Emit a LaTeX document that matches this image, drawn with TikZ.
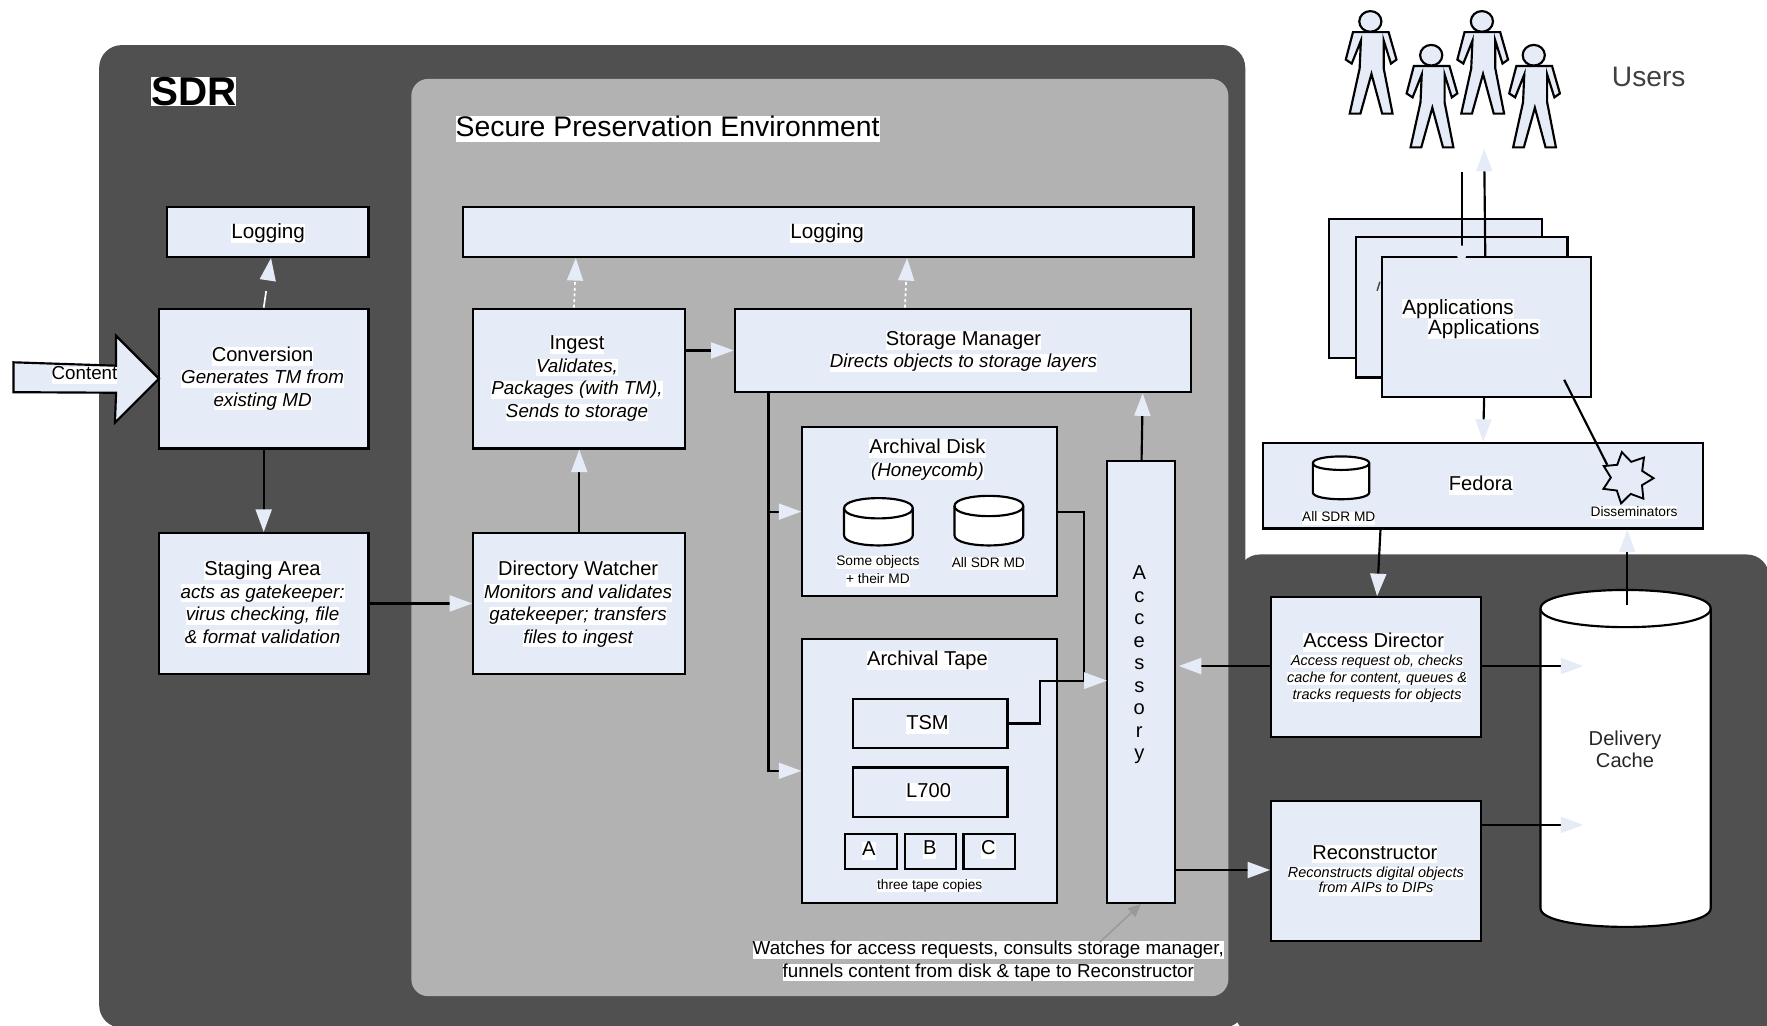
\documentclass[tikz,border=0pt]{standalone}
\usepackage{fontspec}
\setmainfont{Liberation Sans}
\usetikzlibrary{arrows.meta,shapes.geometric}
\definecolor{boxfill}{HTML}{E6ECF7}
\definecolor{panel}{HTML}{505050}
\definecolor{inner}{HTML}{B2B2B2}
\setlength{\fboxsep}{0pt}
\newcommand{\wl}[1]{\colorbox{white}{\vphantom{Ag}#1}}
\newcommand{\iw}[1]{\colorbox{white}{\fontsize{10}{12}\selectfont\itshape\vphantom{Ag}#1}}
\newcommand{\bx}[6][]{\node[boxn,#1,minimum width={(#4-#3)*0.6pt},minimum height={(#6-#5)*0.6pt}] (#2) at ({(#3+#4)/2},{(#5+#6)/2}) {};}
\newcommand{\cyl}[5]{\draw[line width=1.15pt,fill=white] (#1,#3) .. controls (#1,{#3-#5}) and (#2,{#3-#5}) .. (#2,#3)
   -- (#2,#4) .. controls (#2,{#4+#5}) and (#1,{#4+#5}) .. (#1,#4) -- cycle;
   \draw[line width=1.15pt] (#1,#3) .. controls (#1,{#3+#5}) and (#2,{#3+#5}) .. (#2,#3);}
\tikzset{
  boxn/.style={draw=black,fill=boxfill,line width=1.15pt,inner sep=0pt},
  lbl/.style={inner sep=0pt,yshift=-1.2pt,align=center,font=\fontsize{10.7}{12}\selectfont},
  small/.style={inner sep=0pt,yshift=-1.2pt,align=center,font=\fontsize{7.3}{9}\selectfont},
  smalli/.style={inner sep=0pt,yshift=-1.2pt,align=center,font=\fontsize{7.7}{9}\selectfont\itshape},
  conn/.style={line width=1.15pt,draw=black,-{Triangle[length=12pt,width=8.5pt,color=boxfill]}},
  plainc/.style={line width=1.15pt,draw=black},
  dotc/.style={line width=.9pt,draw=white,dash pattern=on 1.6pt off 1.4pt,-{Triangle[length=12pt,width=8.5pt,color=boxfill]}},
  dashc/.style={line width=.9pt,draw=white,dash pattern=on 9pt off 6pt,-{Triangle[length=12pt,width=8.5pt,color=boxfill]}},
  grayc/.style={line width=.8pt,draw=gray!80,-{Triangle[length=7pt,width=6pt,color=gray!80]}},
  person/.style={draw=black,fill=boxfill,line width=1.15pt,line join=miter}
}
\newcommand{\usr}[3]{
  \begin{scope}[shift={(#2,#3)}]
  \draw[person] (-15.4,9.5) -- (-21.8,33.9) -- (-16.5,37.4) -- (-8.4,17.1) -- (-9.5,41.8) -- (-18.3,81.8) -- (-8.8,81.8) -- (1,46.6) -- (10.5,81.8) -- (19.7,81.8) -- (11.9,41.8) -- (11.9,17.1) -- (18.3,37.4) -- (23.2,33.9) -- (16.2,9.5) -- cycle;
  \node[person,ellipse,minimum width=11.8pt,minimum height=11pt,inner sep=0pt] (#1) at (0,0) {};
  \end{scope}}
\begin{document}
\begin{tikzpicture}[x=0.6pt,y=-0.6pt]
\useasboundingbox (0,0) rectangle (1568,910);
\clip (0,0) rectangle (1568,910);
% panels
\fill[panel,rounded corners=12pt] (88,40) rectangle (1105,912);
\fill[panel,rounded corners=12pt] (1098,492) rectangle (1570,950);
\fill[inner,rounded corners=9pt] (365,70) rectangle (1090,884);
% titles
\node[inner sep=0pt,font=\fontsize{21.5}{22}\selectfont\bfseries] (sdr) at (172,81) {\colorbox{white}{SDR}};
\node[inner sep=0pt,anchor=west,yshift=-1pt,font=\fontsize{15.1}{16}\selectfont] (spe) at (404,113) {\wl{Secure Preservation Environment}};
\node[inner sep=0pt,font=\fontsize{15}{16}\selectfont,text=black!75] (users) at (1463,68) {Users};
% users
\usr{u1}{1216}{19}
\usr{u2}{1270}{49}
\usr{u3}{1315}{19}
\usr{u4}{1361}{49}
% boxes
\bx{logl}{148}{327}{184}{228}
\bx{logr}{411}{1059}{184}{228}
\bx{conv}{141}{327}{274}{398}
\bx{stag}{141}{327}{473}{598}
\bx{ing}{420}{608}{274}{398}
\bx{dirw}{420}{608}{473}{598}
\bx{stor}{652}{1057}{274}{348}
\bx{disk}{712}{938}{379}{529}
\bx{tape}{712}{938}{567}{801}
\bx{tsm}{757}{894}{620}{664}
\bx{lto}{757}{894}{681}{725}
\bx{ca}{750}{796}{740}{771}
\bx{cb}{803}{848}{740}{771}
\bx{cc}{855}{901}{740}{771}
\bx{acc}{982}{1043}{409}{801}
\bx{adir}{1128}{1314}{530}{654}
\bx{rec}{1128}{1314}{711}{835}
\bx{fed}{1121}{1511}{393}{469}
\bx{appa}{1179}{1368}{194}{318}
\bx{appb}{1203}{1391}{210}{335}
\bx{appc}{1226}{1412}{228}{352}
% content arrow
\draw[boxn,line join=miter] (12,321.5) -- (103,324.5) -- (103,298) -- (141,336) -- (102,375) -- (103,348.5) -- (12,348) -- cycle;
\node[inner sep=0pt,font=\fontsize{10}{11}\selectfont] (content) at (75,333) {\wl{Content}};
% cylinders
\cyl{749}{810}{451}{475}{12}
\cyl{847}{908}{449}{475}{12}
\cyl{1165}{1215}{411}{437}{8}
\cyl{1367}{1518}{540}{806}{22}
\node[lbl,text=black!85] (cache) at (1442,663) {Delivery\\Cache};
\coordinate (cacheA) at (1405,591);
\coordinate (cacheR) at (1405,732);
\coordinate (cacheT) at (1444,537);
% star
\node[star,star points=7,star point ratio=1.6,minimum size=28pt,inner sep=0pt,draw=black,fill=boxfill,line width=1pt,rotate=12] (dis) at (1444,424) {};
% box texts
\node[lbl,font=\fontsize{11}{12}\selectfont] at (238,205) {\wl{Logging}};
\node[lbl,font=\fontsize{11}{12}\selectfont] at (734,205) {\wl{Logging}};
\node[lbl] at (233,334) {\wl{Conversion}\\\iw{Generates TM from}\\\iw{existing MD}};
\node[lbl] at (233,534) {\wl{Staging Area}\\\iw{acts as gatekeeper:}\\\iw{virus checking, file}\\\iw{\& format validation}};
\node[lbl] at (512,334) {\wl{Ingest}\\\iw{Validates,}\\\iw{Packages (with TM),}\\\iw{Sends to storage}};
\node[lbl] at (513,534) {\wl{Directory Watcher}\\\iw{Monitors and validates}\\\iw{gatekeeper; transfers}\\\iw{files to ingest}};
\node[lbl] at (855,310) {\wl{Storage Manager}\\\iw{Directs objects to storage layers}};
\node[lbl] at (823,406) {\wl{Archival Disk}\\\iw{(Honeycomb)}};
\node[lbl] at (823,584) {\wl{Archival Tape}};
\node[lbl] at (823,641) {\wl{TSM}};
\node[lbl] at (824,701) {\wl{L700}};
\node[lbl] at (771,753) {\wl{A}};
\node[lbl] at (825,752) {\wl{B}};
\node[lbl] at (877,752) {\wl{C}};
\node[small,font=\fontsize{7.3}{9.6}\selectfont] at (779,505) {\wl{Some objects}\\\wl{+ their MD}};
\node[small] at (877,498) {\wl{All SDR MD}};
\node[small] at (825,784) {\wl{three tape copies}};
\node[lbl] at (1011,588) {A\\c\\c\\e\\s\\s\\o\\r\\y};
\node[lbl] at (1219,568) {\wl{Access Director}};
\node[smalli] at (1222,600) {\wl{Access request ob, checks}\\\wl{cache for content, queues \&}\\\wl{tracks requests for objects}};
\node[lbl] at (1220,756) {\wl{Reconstructor}};
\node[smalli,font=\fontsize{7.7}{8.5}\selectfont\itshape] at (1221,780) {\wl{Reconstructs digital objects}\\\wl{from AIPs to DIPs}};
\node[lbl] at (1314,429) {\wl{Fedora}};
\node[small] at (1188,458) {\wl{All SDR MD}};
\node[small] at (1450,453) {\wl{Disseminators}};
\node[lbl,anchor=west,font=\fontsize{11}{12}\selectfont] at (1244,272) {\wl{Applications}};
\node[lbl,anchor=west,font=\fontsize{11}{12}\selectfont] at (1267,290) {\wl{Applications}};
\node[lbl,font=\fontsize{10}{12}\selectfont] (watch) at (877,851) {\wl{Watches for access requests, consults storage manager,}\\\wl{funnels content from disk \& tape to Reconstructor}};
% connectors
\draw[dashc] (conv.north) -- ([xshift=1.8pt]logl.south);
\draw[conn] (conv.south) -- (stag.north);
\draw[conn] (stag.east) -- (dirw.west);
\draw[conn] (dirw.north) -- (ing.south);
\draw[dotc] ([xshift=-2.8pt]ing.north) -- (511,0 |- logr.south);
\draw[dotc] (803,0 |- stor.north) -- (805,0 |- logr.south);
\draw[conn] ([yshift=15pt]ing.east) -- ([yshift=15pt]ing.east -| stor.west);
\draw[conn] (682,0 |- stor.south) |- (disk.west);
\draw[conn] (682,0 |- stor.south) |- (tape.west);
\coordinate (accin) at (982,604);
\draw[conn] (disk.east) -- ++(23,0) |- (accin);
\draw[conn] (tsm.east) -- ++(28,0) |- (accin);
\draw[conn] (1013,0 |- acc.north) -- (1014,349);
\draw[conn] (adir.west |- 0,591) -- (1046,591);
\draw[conn] (adir.east |- cacheA) -- (cacheA);
\draw[conn] (rec.east |- cacheR) -- (cacheR);
\draw[conn] (acc.east |- 0,772) -- (rec.west |- 0,772);
\draw[conn] (1225,0 |- fed.south) -- (1222,0 |- adir.north);
\draw[conn] (cacheT) -- (cacheT |- fed.south);
\draw[conn] (1317,0 |- appc.south) -- (1316,0 |- fed.north);
\draw[plainc] (1388,337) -- (dis.north west);
\coordinate (uin) at (1297,153);
\coordinate (uout) at (1317,132);
\coordinate (appin) at (1297,238);
\draw[conn] (uin) -- (appin);
\draw[conn] (1318,0 |- appc.north) -- (uout);
\draw[grayc] (976,836) -- (acc.south);
\draw[line width=.8pt,black!70] (1222,258) -- (1224.5,250);
\fill[white] (1095,912) -- (1098,907.5) -- (1101,912) -- cycle;
\end{tikzpicture}
\end{document}
